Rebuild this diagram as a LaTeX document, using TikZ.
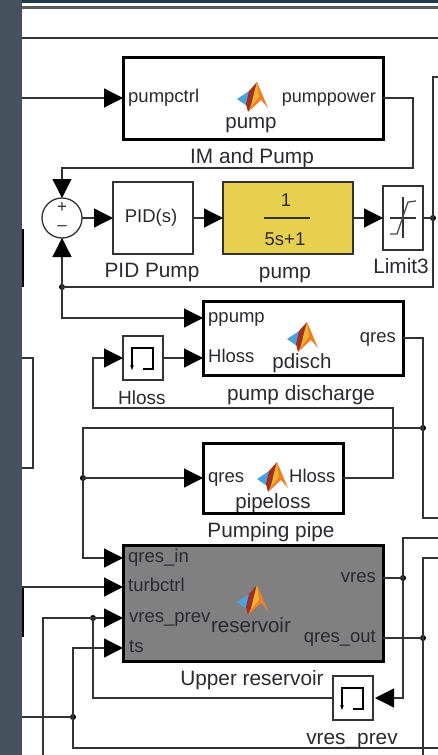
\documentclass[tikz,border=0pt]{standalone}
\usepackage{fontspec}
\setmainfont{Liberation Sans}
\usetikzlibrary{arrows.meta,calc}
\definecolor{band}{HTML}{44525C}
\definecolor{navy}{HTML}{23384D}
\definecolor{ink}{HTML}{2A2A33}
\definecolor{wire}{HTML}{333333}
\definecolor{yel}{HTML}{E8D04F}
\definecolor{res}{HTML}{808080}
\definecolor{mblue}{HTML}{4AA3DF}
\definecolor{mred}{HTML}{A03020}
\definecolor{morange}{HTML}{EE7F25}
\definecolor{myel}{HTML}{F0B030}
\newcommand{\mlogo}[1]{%
  \begin{scope}[shift={(#1)}]
    \fill[mblue] (-15,2)--(-3,-6)--(-3,3)--(-5,9)--cycle;
    \fill[mred] (-3,-6)--(5,-15)--(2,5)--(-4,15)--(-6,7)--cycle;
    \fill[morange] (5,-15)--(16,11)--(9,3)--(-4,15)--(1,3)--cycle;
    \fill[myel] (5,-15)--(7,0)--(-1,10)--(1,0)--cycle;
  \end{scope}}
\tikzset{
  x=1pt,y=-1pt,
  wirel/.style={draw=wire,line width=1.3pt,line join=miter},
  flow/.style={wirel,-{Triangle[length=19pt,width=19pt,color=black]}},
  sub/.style={draw=black,line width=3pt,fill=white,inner sep=0pt,outer sep=0pt},
  plain/.style={draw=wire,line width=1.3pt,fill=white,inner sep=0pt,outer sep=0pt},
  port/.style={inner sep=0pt,text=ink,text height=15pt,text depth=4pt,font=\fontsize{18.5}{19}\selectfont},
  blockname/.style={port,font=\fontsize{20.5}{21}\selectfont},
  lab/.style={inner sep=0pt,text=ink,text height=18pt,text depth=4pt,font=\fontsize{20.8}{21}\selectfont},
  dotn/.style={circle,fill=black,inner sep=0pt,minimum size=6pt,outer sep=0pt},
}
\begin{document}
\begin{tikzpicture}
\useasboundingbox (0,0) rectangle (438,755);
\fill[white] (0,0) rectangle (438,755);
\fill[navy] (22,0) rectangle (438,3);
\fill[band] (0,0) rectangle (22,755);
\draw[color=gray!70!black,line width=2.4pt] (22,7.5) -- (438,7.5);
\draw[color=gray!40!black,line width=2pt] (22,38) -- (438,38);
\draw[black,line width=1.3pt] (23,229) -- (23,287);
\draw[wire,line width=1.3pt] (22,358) -- (33,358) -- (33,468) -- (22,468);
\draw[black,line width=1.5pt] (23,587) -- (23,637);

% blocks
\node[sub,minimum width=260pt,minimum height=82pt] (im) at (253,98) {};
\node[circle,draw=wire,line width=1.3pt,fill=white,minimum size=40pt,inner sep=0pt,outer sep=0pt] (sum) at (62,218) {};
\node[plain,minimum width=80pt,minimum height=72pt] (pid) at (153,218) {};
\node[plain,fill=yel,minimum width=130pt,minimum height=72pt] (tf) at (288,218) {};
\node[plain,minimum width=40pt,minimum height=64pt] (lim) at (403,218) {};
\node[sub,minimum width=200pt,minimum height=74pt] (pd) at (303,338) {};
\node[plain,minimum width=40pt,minimum height=44pt] (hl) at (143,358) {};
\node[sub,minimum width=140pt,minimum height=70pt] (pl) at (273,478) {};
\node[sub,fill=res,minimum width=260pt,minimum height=116pt] (rv) at (253,603) {};
\node[plain,minimum width=40pt,minimum height=44pt] (vp) at (353,698) {};

% ports and routing points
\coordinate (pdA) at (203,318);
\coordinate (pdB) at (203,358);
\coordinate (pdOut) at (403,338);
\coordinate (rvA) at (123,558);
\coordinate (rvB) at (123,587);
\coordinate (rvC) at (123,618);
\coordinate (rvD) at (123,648);
\coordinate (rvE) at (383,578);
\coordinate (rvF) at (383,638);
\coordinate (eA) at (22,98);
\coordinate (eB) at (438,77);
\coordinate (eC) at (438,518);
\coordinate (eD) at (22,587);
\coordinate (eE) at (438,538);
\coordinate (eF) at (438,558);
\coordinate (eG) at (423,755);
\coordinate (eH) at (22,717);
\coordinate (eI) at (438,748);
\coordinate (eJ) at (43,755);

\node[dotn] (d1) at (433,218) {};
\node[dotn] (d2) at (62,287) {};
\node[dotn] (d3) at (423,428) {};
\node[dotn] (d4) at (83,478) {};
\node[dotn] (d5) at (93,618) {};
\node[dotn] (d6) at (403,578) {};
\node[dotn] (d7) at (423,638) {};
\node[dotn] (d8) at (73,717) {};

% connectors
\draw[flow] (eA) -- (im.west);
\draw[flow] (im.east) -- ++(30,0) |- (62,168) -- (sum.north);
\draw[flow] (sum.east) -- (pid.west);
\draw[flow] (pid.east) -- (tf.west);
\draw[flow] (tf.east) -- (lim.west);
\draw[wirel] (lim.east) -- (d1.center);
\draw[wirel] (eB) -- (433,77) -- (d1.center) -- (433,287) -- (d2.center);
\draw[flow] (d2.center) -- (sum.south);
\draw[flow] (d2.center) |- (pdA);
\draw[flow] (hl.east) -- (pdB);
\draw[wirel] (pdOut) -| (d3.center) |- (eC);
\draw[wirel] (d3.center) -- (83,428) -- (d4.center);
\draw[flow] (d4.center) -- (pl.west);
\draw[flow] (d4.center) |- (rvA);
\draw[flow] (pl.east) -- ++(50,0) |- (93,408) |- (hl.west);
\draw[flow] (eD) -- (rvB);
\draw[flow] (eJ) |- (rvC);
\draw[wirel] (d5.center) |- (vp.west);
\draw[flow] (d8.center) |- (rvD);
\draw[wirel] (eH) -- (d8.center) |- (eI);
\draw[wirel] (rvE) -- (d6.center);
\draw[wirel] (d6.center) |- (eE);
\draw[flow,shorten >=2pt] (d6.center) |- (vp.east);
\draw[wirel] (rvF) -- (d7.center);
\draw[wirel] (eF) -| (d7.center) -- (eG);

% logos
\mlogo{252,97}
\mlogo{302,337}
\mlogo{272,477}
\mlogo{252,600}

% block icons
\node[inner sep=0pt,font=\fontsize{17}{18}\selectfont,text=ink] (plus) at (62,208) {+};
\node[inner sep=0pt,font=\fontsize{17}{18}\selectfont,text=ink] (minus) at (62,228) {--};
\draw[wire,line width=1.3pt] (264,218) -- (310,218);
\draw[wire,line width=1.5pt] (390,218) -- (416,218) (403,197) -- (403,238);
\draw[gray!60!black,line width=1.3pt] (390,234) -- (397,234) -- (408,202) -- (416,201);
\draw[black,line width=1.1pt,-{Stealth[length=5pt]}] (142,348) -- (132,348) -- (132,370);
\draw[black,line width=1.1pt] (142,348) -- (153,348) -- (153,369) -- (143,369);
\draw[black,line width=1.1pt,-{Stealth[length=5pt]}] (353,688) -- (342,688) -- (342,710);
\draw[black,line width=1.1pt] (353,688) -- (363,688) -- (363,709) -- (353,709);

% texts
\node[port,anchor=west] (t1) at (128,97) {pumpctrl};
\node[port,anchor=east] (t2) at (376,97) {\fontsize{18}{19}\selectfont pumppower};
\node[blockname] (t3) at (251,123) {pump};
\node[lab] (t4) at (252,156) {IM and Pump};
\node[port] (t5) at (151,217) {PID(s)};
\node[lab] (t6) at (152,270) {PID Pump};
\node[lab] (t7) at (285,271) {pump};
\node[port] (t8) at (286,201) {1};
\node[port] (t9) at (285,240) {5s+1};
\node[lab] (t10) at (401,266) {Limit3};
\node[port,anchor=west] (t11) at (208,317) {ppump};
\node[port,anchor=west] (t12) at (208,357) {Hloss};
\node[blockname] (t13) at (302,363) {pdisch};
\node[port,anchor=east] (t14) at (396,337) {qres};
\node[lab,font=\fontsize{19}{20}\selectfont] (t15) at (142,397) {Hloss};
\node[lab] (t16) at (301,393) {pump discharge};
\node[port,anchor=west] (t17) at (208,477) {qres};
\node[port,anchor=west] (t18) at (289,477) {Hloss};
\node[blockname] (t19) at (273,503) {pipeloss};
\node[lab] (t20) at (271,530) {Pumping pipe};
\node[port,anchor=west] (t21) at (128,557) {qres\_in};
\node[port,anchor=west] (t22) at (128,586) {turbctrl};
\node[port,anchor=west] (t23) at (129,617) {vres\_prev};
\node[port,anchor=west] (t24) at (129,647) {ts};
\node[blockname] (t25) at (251,627) {reservoir};
\node[port,anchor=east] (t26) at (376,577) {vres};
\node[port,anchor=east] (t27) at (376,637) {qres\_out};
\node[lab] (t28) at (252,678) {Upper reservoir};
\node[lab] (t29) at (352,737) {vres\_prev};
\end{tikzpicture}
\end{document}
